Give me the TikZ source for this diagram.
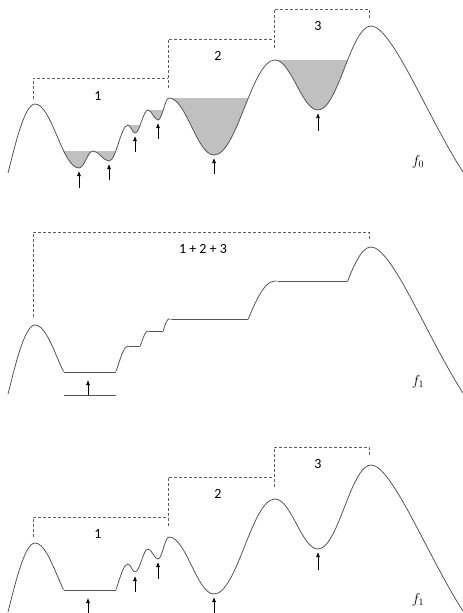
\documentclass[tikz,border=0pt]{standalone}
\usepackage{fontspec}
\setmainfont{Carlito}
\usetikzlibrary{arrows.meta}
\definecolor{curvec}{RGB}{85,85,85}
\definecolor{dashc}{RGB}{95,95,95}
\definecolor{fillc}{RGB}{192,192,192}
\newcommand\fcurve{(8,173) .. controls (14,150) and (24,104) .. (35,104)
 .. controls (51.7,104) and (62.3,168) .. (79,168)
 .. controls (84.3,168) and (87.7,151) .. (93,151)
 .. controls (99.1,151) and (102.9,161) .. (109,161)
 .. controls (116.2,161) and (120.8,125) .. (128,125)
 .. controls (130.7,125) and (132.3,133) .. (135,133)
 .. controls (139.9,133) and (143.1,110) .. (148,110)
 .. controls (151.8,110) and (154.2,120) .. (158,120)
 .. controls (162.2,120) and (164.8,98) .. (169,98)
 .. controls (186.1,98) and (196.9,155) .. (214,155)
 .. controls (237.2,155) and (251.8,60) .. (275,60)
 .. controls (291.3,60) and (301.7,110) .. (318,110)
 .. controls (338.1,110) and (350.9,26) .. (371,26)
 .. controls (392,26) and (428,118) .. (463,172)}
\begin{document}
\begin{tikzpicture}[x=1pt,y=-1pt,
  curve/.style={draw=curvec,line width=0.8pt},
  bracket/.style={draw=dashc,line width=0.7pt,dash pattern=on 3pt off 2pt},
  arr/.style={draw=black,line width=0.7pt,-{Latex[length=5pt,width=4pt]}},
  lbl/.style={font=\fontsize{14}{16}\selectfont,inner sep=0pt},
  flbl/.style={font=\fontsize{14}{16}\selectfont,inner sep=0pt}]
\useasboundingbox (0,0) rectangle (463,613);

% ---------------- top panel ----------------
\begin{scope}
  \clip (35,151) rectangle (128,200) (128,125) rectangle (148,200)
        (148,110) rectangle (169,200) (169,98) rectangle (275,200)
        (275,60) rectangle (371,200);
  \fill[fillc] \fcurve -- (463,-10) -- (8,-10) -- cycle;
\end{scope}
\draw[curve] \fcurve;
\draw[bracket] (33,99) -- (33,78) -- (168,78);
\draw[bracket] (168,88) -- (168,39) -- (274,39);
\draw[bracket] (274,48) -- (274,9) -- (369,9) -- (369,19);
\node[lbl] (t1) at (98,96) {1};
\node[lbl] (t2) at (218,56) {2};
\node[lbl] (t3) at (318,26) {3};
\node[flbl] (tf) at (418,162) {$f_0$};
\draw[arr] (79,188) -- (79,171);
\draw[arr] (109,180) -- (109,164);
\draw[arr] (135,152) -- (135,136);
\draw[arr] (158,139) -- (158,123);
\draw[arr] (214,174) -- (214,158);
\draw[arr] (318,131) -- (318,113);

% ---------------- middle panel ----------------
\begin{scope}[yshift=-221pt]
  \begin{scope}
    \clip (0,-10) rectangle (35,200) (35,-10) rectangle (128,150.5)
          (128,-10) rectangle (148,125) (148,-10) rectangle (169,110)
          (169,-10) rectangle (275,98) (275,-10) rectangle (371,60)
          (371,-10) rectangle (470,200);
    \draw[curve] \fcurve;
  \end{scope}
  \draw[curve] (63.7,151) -- (115.8,151);
  \begin{scope}
    \clip \fcurve -- (463,-10) -- (8,-10) -- cycle;
    \draw[curve] (128,125) -- (148,125)
      (148,110) -- (169,110) (169,98) -- (275,98) (275,60) -- (371,60);
  \end{scope}
\end{scope}
\draw[bracket] (33,317) -- (33,232) -- (369,232) -- (369,241);
\node[lbl] (m1) at (203,249) {1 + 2 + 3};
\node[flbl] (mf) at (418,382) {$f_1$};
\draw[curvec,line width=0.8pt] (64,395) -- (116,395);
\draw[arr] (88,395) -- (88,380);

% ---------------- bottom panel ----------------
\begin{scope}[yshift=-439pt]
  \begin{scope}
    \clip (0,-10) rectangle (35,200) (35,-10) rectangle (128,150.5)
          (128,-10) rectangle (470,200);
    \draw[curve] \fcurve;
  \end{scope}
  \draw[curve] (63.7,151) -- (115.8,151);
\end{scope}
\draw[bracket] (33,537) -- (33,517) -- (168,517);
\draw[bracket] (168,526) -- (168,477) -- (274,477);
\draw[bracket] (274,487) -- (274,447) -- (369,447) -- (369,457);
\node[lbl] (b1) at (98,534) {1};
\node[lbl] (b2) at (218,494) {2};
\node[lbl] (b3) at (318,464) {3};
\node[flbl] (bf) at (418,600) {$f_1$};
\draw[arr] (88,614) -- (88,598);
\draw[arr] (135,592) -- (135,576);
\draw[arr] (158,579) -- (158,562);
\draw[arr] (214,614) -- (214,597);
\draw[arr] (318,570) -- (318,552);
\end{tikzpicture}
\end{document}
